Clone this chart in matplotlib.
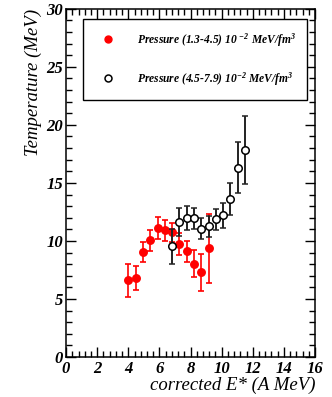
import matplotlib
matplotlib.use('Agg')
import matplotlib.pyplot as plt
from matplotlib.lines import Line2D
from matplotlib.ticker import MultipleLocator

plt.rcParams['font.family'] = ['Liberation Serif', 'DejaVu Serif']
plt.rcParams['font.weight'] = 'bold'
plt.rcParams['font.style'] = 'italic'
plt.rcParams['mathtext.fontset'] = 'custom'
plt.rcParams['mathtext.rm'] = 'Liberation Serif:italic:bold'
plt.rcParams['mathtext.it'] = 'Liberation Serif:italic:bold'
plt.rcParams['mathtext.default'] = 'rm'

# low pressure selection (red, filled)
e_low = [4.0, 4.48, 4.95, 5.4, 5.89, 6.34, 6.83, 7.28, 7.76, 8.23, 8.7, 9.17]
t_low = [6.6, 6.8, 9.05, 10.05, 11.15, 10.9, 10.75, 9.75, 9.1, 8.05, 7.3, 9.35]
err_low = [1.4, 1.0, 0.9, 0.9, 0.95, 0.9, 0.8, 0.95, 0.9, 1.2, 1.6, 3.0]

# high pressure selection (black, open)
e_high = [6.83, 7.28, 7.76, 8.23, 8.7, 9.17, 9.62, 10.09, 10.56, 11.03, 11.5]
t_high = [9.55, 11.65, 11.98, 11.95, 11.05, 11.25, 11.85, 12.2, 13.6, 16.3, 17.85]
err_high = [1.5, 1.2, 1.0, 0.9, 0.9, 0.9, 0.9, 1.1, 1.4, 2.2, 2.95]

labels = [r'Pressure (1.3-4.5) 10 $^{-2}$ MeV/fm$^{3}$',
          r'Pressure (4.5-7.9) 10$^{-2}$ MeV/fm$^{3}$']

fig = plt.figure(figsize=(3.32, 3.97), dpi=100)
ax = fig.add_axes([0.199, 0.1008, 0.75, 0.877])

ax.errorbar(e_low, t_low, yerr=err_low, fmt='o', color='red', ms=5.4,
            mec='red', ecolor='red', elinewidth=1.2, capsize=2, capthick=1.2, zorder=2)
ax.errorbar(e_high, t_high, yerr=err_high, fmt='o', color='black', ms=5.4,
            mfc='white', mec='black', mew=1.1, ecolor='#222222', elinewidth=1.4,
            capsize=2, capthick=1.2, zorder=3)

ax.set_xlim(0, 16)
ax.set_ylim(0, 30)
ax.xaxis.set_major_locator(MultipleLocator(2))
ax.xaxis.set_minor_locator(MultipleLocator(0.4))
ax.yaxis.set_major_locator(MultipleLocator(5))
ax.yaxis.set_minor_locator(MultipleLocator(1))
ax.tick_params(which='both', direction='in', top=True, right=True, labelsize=12, width=1)
ax.tick_params(which='major', length=7)
ax.tick_params(which='minor', length=4)
ax.tick_params(axis='x', pad=3)
ax.tick_params(axis='y', pad=2)
for s in ax.spines.values():
    s.set_linewidth(1.1)

ax.set_xlabel('corrected E* (A MeV)', fontsize=13.5, loc='right', labelpad=0)
ax.set_ylabel('Temperature (MeV)', fontsize=13.5, loc='top', labelpad=3)

handles = [Line2D([], [], ls='none', marker='o', color='red', ms=5),
           Line2D([], [], ls='none', marker='o', mfc='white', mec='black', mew=1.1, ms=5)]
leg = ax.legend(handles, labels, loc='upper left', bbox_to_anchor=(0.068, 0.971, 0.9, 0.0),
                mode='expand', borderaxespad=0, fancybox=False, framealpha=1,
                edgecolor='black', fontsize=8.3, labelspacing=1.85, borderpad=1.05,
                handletextpad=1.3, handlelength=2.3)
leg.get_frame().set_linewidth(1.0)

fig.savefig('out.png', dpi=100)
